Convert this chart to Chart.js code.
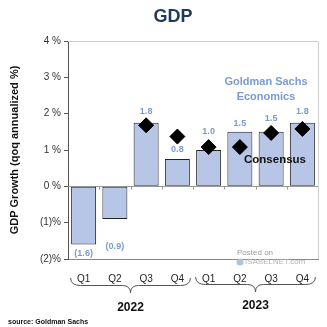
<!DOCTYPE html>
<html>
<head>
<meta charset="utf-8">
<script src="https://cdn.jsdelivr.net/npm/chart.js@4.4.1/dist/chart.umd.min.js"></script>
<style>
  html, body { margin: 0; padding: 0; background: #fff; }
  #wrap { width: 327px; height: 327px; }
</style>
</head>
<body>
<div id="wrap"><canvas id="gdp" width="327" height="327"></canvas></div>
<script>
const quarters = ["Q1", "Q2", "Q3", "Q4", "Q1", "Q2", "Q3", "Q4"];
const years = ["2022", "2023"];
const goldman = [-1.6, -0.9, 1.75, 0.75, 1.0, 1.5, 1.5, 1.75];
const goldmanLabels = ["(1.6)", "(0.9)", "1.8", "0.8", "1.0", "1.5", "1.5", "1.8"];
const consensus = [null, null, 1.68, 1.37, 1.08, 1.08, 1.47, 1.58];
const yTicks = [-2, -1, 0, 1, 2, 3, 4];

const labelBlue = "#7b9bd0";
// distance of each value label from its bar end, as in the original
const labelGap = [9, 27, 11, 10, 18, 8, 13, 11];

// labels, frame, braces and notes
const extras = {
    id: "extras",
    beforeDatasetsDraw(chart) {
        const ctx = chart.ctx;
        const a = chart.chartArea;
        const y = chart.scales.y;
        ctx.save();
        // frame
        ctx.strokeStyle = "#cfcfcf";
        ctx.lineWidth = 1;
        ctx.beginPath();
        ctx.moveTo(a.left, a.top + 0.5);
        ctx.lineTo(a.right + 0.5, a.top + 0.5);
        ctx.lineTo(a.right + 0.5, a.bottom);
        ctx.stroke();

        // zero line with small ticks
        const y0 = Math.round(y.getPixelForValue(0)) + 0.5;
        ctx.strokeStyle = "#999";
        ctx.beginPath();
        ctx.moveTo(a.left, y0);
        ctx.lineTo(a.right, y0);
        const step = (a.right - a.left) / quarters.length;
        for (let i = 1; i < quarters.length; i++) {
            const tx = Math.round(a.left + step * i) + 0.5;
            ctx.moveTo(tx, y0);
            ctx.lineTo(tx, y0 + 3);
        }
        ctx.stroke();

        // watermark
        ctx.fillStyle = "#9a9a9a";
        ctx.font = "8px Arial, sans-serif";
        ctx.textAlign = "left";
        ctx.textBaseline = "middle";
        ctx.fillText("Posted on", 237, 253);
        ctx.fillStyle = "#b5b5b5";
        ctx.fillText("ISABELNET.com", 245, 262);
        ctx.fillStyle = "#a9c6e0";
        ctx.beginPath();
        ctx.arc(240, 262, 3.5, 0, Math.PI * 2);
        ctx.fill();
        ctx.restore();
    },
    afterDatasetsDraw(chart) {
        const ctx = chart.ctx;
        const x = chart.scales.x;
        const bars = chart.getDatasetMeta(1).data;

        ctx.save();
        // value labels
        ctx.fillStyle = labelBlue;
        ctx.font = "bold 9px Arial, 'Liberation Sans', sans-serif";
        ctx.textAlign = "center";
        ctx.textBaseline = "middle";
        goldman.forEach((v, i) => {
            const b = bars[i];
            const ly = v >= 0 ? b.y - labelGap[i] : b.y + labelGap[i];
            ctx.fillText(goldmanLabels[i], b.x, ly);
        });

        // title
        ctx.fillStyle = "#1b3a5e";
        ctx.font = "bold 18px 'Liberation Sans Narrow', Arial, sans-serif";
        ctx.fillText("GDP", 173, 17);

        // annotations
        ctx.fillStyle = labelBlue;
        ctx.font = "bold 11px Arial, 'Liberation Sans', sans-serif";
        ctx.fillText("Goldman Sachs", 266, 82);
        ctx.fillText("Economics", 266, 97);

        ctx.fillStyle = "#111";
        ctx.font = "bold 11.5px Arial, 'Liberation Sans', sans-serif";
        ctx.fillText("Consensus", 275, 160);

        // braces under the quarters
        const brace = (x1, x2, top, bot) => {
            const mid = (x1 + x2) / 2;
            const h = (bot - top) / 2;
            ctx.beginPath();
            ctx.moveTo(x1, top);
            ctx.quadraticCurveTo(x1, top + h, x1 + 10, top + h);
            ctx.lineTo(mid - 8, top + h);
            ctx.quadraticCurveTo(mid, top + h, mid, bot);
            ctx.quadraticCurveTo(mid, top + h, mid + 8, top + h);
            ctx.lineTo(x2 - 10, top + h);
            ctx.quadraticCurveTo(x2, top + h, x2, top);
            ctx.stroke();
        };
        ctx.strokeStyle = "#555";
        ctx.lineWidth = 1;
        const g1a = x.getPixelForValue(0) - 13, g1b = x.getPixelForValue(3) + 13;
        const g2a = x.getPixelForValue(4) - 13, g2b = x.getPixelForValue(7) + 13;
        brace(g1a, g1b, 278, 293);
        brace(g2a, g2b, 277, 292);

        ctx.fillStyle = "#111";
        ctx.font = "bold 12px Arial, 'Liberation Sans', sans-serif";
        ctx.textAlign = "center";
        ctx.fillText(years[0], (g1a + g1b) / 2, 308);
        ctx.fillText(years[1], (g2a + g2b) / 2, 306);

        ctx.font = "bold 7px Arial, sans-serif";
        ctx.textAlign = "left";
        ctx.fillText("source: Goldman Sachs", 8, 322);
        ctx.restore();
    }
};

new Chart(document.getElementById("gdp"), {
    data: {
        labels: quarters,
        datasets: [
            {
                type: "scatter",
                data: consensus,
                backgroundColor: "#000",
                borderColor: "#000",
                pointStyle: "rectRot",
                pointRadius: 7.5,
                order: 0
            },
            {
                type: "bar",
                data: goldman,
                backgroundColor: "#b7c5e6",
                borderColor: "#222",
                borderWidth: 1,
                borderSkipped: false,
                categoryPercentage: 0.8,
                barPercentage: 1,
                order: 1
            }
        ]
    },
    options: {
        responsive: false,
        animation: false,
        devicePixelRatio: 1,
        layout: { padding: { top: 41, right: 9, left: 0, bottom: 0 } },
        plugins: {
            legend: { display: false },
            tooltip: { enabled: false }
        },
        scales: {
            x: {
                type: "category",
                offset: true,
                grid: { display: false },
                border: { display: true, color: "#888" },
                ticks: {
                    color: "#222",
                    padding: 6,
                    font: { size: 10, family: "Arial, 'Liberation Sans', sans-serif" }
                },
                afterFit: s => { s.height = 68; }
            },
            y: {
                min: -2,
                max: 4,
                afterBuildTicks: s => { s.ticks = yTicks.map(v => ({ value: v })); },
                grid: { drawOnChartArea: false, tickLength: 4, color: "#555" },
                border: { color: "#555" },
                ticks: {
                    color: "#333",
                    padding: 3,
                    font: { size: 10, family: "Arial, 'Liberation Sans', sans-serif" },
                    callback: v => v < 0 ? "(" + (-v) + ")%" : v + " %"
                },
                title: {
                    display: true,
                    text: "GDP Growth (qoq annualized %)",
                    color: "#111",
                    padding: { top: 8, bottom: 0 },
                    font: { size: 11, weight: "bold", family: "Arial, 'Liberation Sans', sans-serif" }
                },
                afterFit: s => { s.width = 68; }
            }
        }
    },
    plugins: [extras]
});
</script>
</body>
</html>
